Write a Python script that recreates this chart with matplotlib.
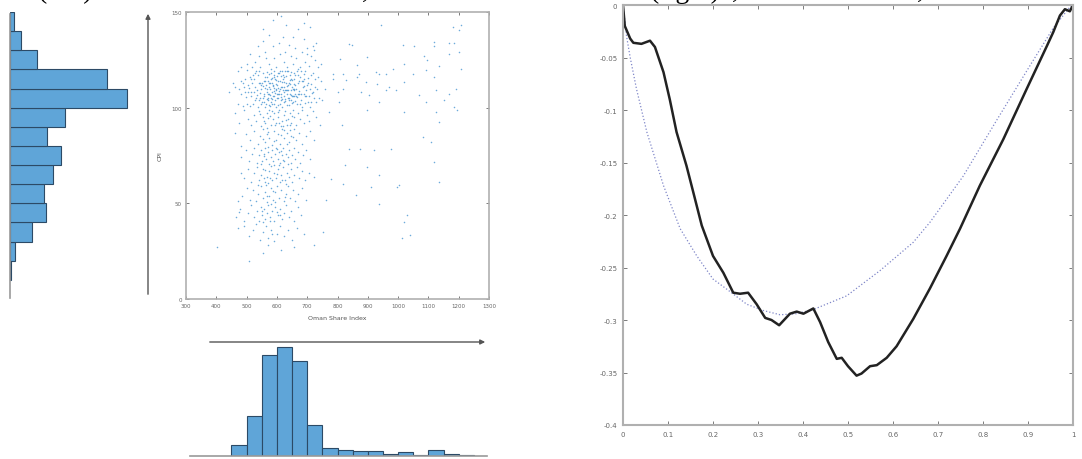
import matplotlib.pyplot as plt
import numpy as np
from matplotlib.patches import FancyArrowPatch

plt.rcParams['axes.unicode_minus'] = False

# --- marginal histograms (bin edges in data units, counts)
cpi_edges = [10, 20, 30, 40, 50, 60, 70, 80, 90, 100, 110, 120, 130, 140, 150]
cpi_counts = [1, 8, 36, 59, 55, 70, 83, 60, 90, 191, 158, 44, 18, 7]

osi_edges = [450, 500, 550, 600, 650, 700, 750, 800, 850, 900, 950,
             1000, 1050, 1100, 1150, 1200, 1250]
osi_counts = [22, 82, 208, 224, 195, 64, 16, 12, 10, 10, 5, 8, 2, 12, 5, 3]

# --- scatter: Oman Share Index vs CPI
core_pts = [
    (630, 143), (586, 146), (555, 141), (668, 141), (710, 142), (612, 148), (690, 144),
    (536, 132), (586, 132), (652, 137), (690, 136), (723, 130), (718, 132), (619, 137),
    (608, 134), (573, 138), (640, 133), (700, 131), (660, 131), (555, 135), (730, 134),
    (564, 126), (481, 121), (510, 128), (528, 124), (545, 121), (560, 129), (575, 123),
    (590, 126), (598, 121), (611, 128), (622, 124), (633, 121), (645, 127), (652, 123),
    (664, 126), (676, 121), (684, 129), (693, 124), (705, 122), (712, 127), (725, 125),
    (735, 121), (500, 123), (540, 127), (582, 120), (627, 129), (670, 120), (698, 128),
    (745, 123), (517, 121),
    (455, 113), (462, 111), (470, 119), (476, 110), (483, 114), (490, 111), (495, 115),
    (500, 119.5), (506, 112), (511, 116), (515, 115), (519, 113), (524, 115), (528, 118),
    (532, 119), (536, 117), (540, 119), (544, 113), (548, 112), (551, 113), (555, 118),
    (558, 114), (562, 116), (565, 112), (568, 116), (571, 114), (574, 113), (577, 113),
    (580, 118), (583, 113), (586, 112), (589, 117), (592, 119), (595, 115), (598, 110),
    (601, 112), (604, 118), (607, 118), (610, 114), (613, 111), (616, 119), (619, 117),
    (622, 111), (625, 116), (628, 119), (631, 113), (634, 119), (637, 119), (640, 113),
    (643, 117), (646, 115), (649, 111), (652, 110), (655, 115), (658, 118), (661, 112),
    (664, 110), (667, 119), (670, 117), (674, 114), (678, 119), (682, 114), (686, 114),
    (690, 115), (694, 119), (699, 112), (704, 113), (709, 110), (714, 117), (720, 118),
    (727, 111), (735, 116), (745, 114), (760, 110), (573, 117.5), (596, 114.5),
    (612, 116.5), (633, 111.5), (655, 112.5), (584, 115.5), (625, 113.5), (566, 118.5),
    (604, 110.5), (642, 114.5), (688, 111.5), (618, 113.5), (590, 110.5), (648, 118.5),
    (600, 116.5), (560, 110.5),
    (548, 109.5), (553, 111.5), (557, 107.3), (561, 113.7), (566, 109.8), (569, 105.2),
    (574, 110.8), (578, 106.4), (581, 114.9), (585, 104.3), (588, 111.2), (591, 115.8),
    (594, 107.9), (598, 112.6), (601, 104.8), (605, 113.9), (608, 108.7), (611, 119.3),
    (614, 105.6), (617, 110.9), (621, 115.1), (624, 108.2), (628, 104.7), (631, 116.4),
    (634, 107.2), (638, 111.7), (641, 103.9), (644, 112.3), (647, 106.8), (651, 114.4),
    (654, 103.2), (657, 109.9), (661, 117.3), (665, 105.4), (669, 112.8), (672, 108.6),
    (677, 116.2), (681, 106.9), (685, 110.7), (691, 117.8), (696, 109.3), (701, 115.6),
    (706, 106.1), (712, 112.2), (718, 108.4), (725, 114.8), (733, 109.6), (540, 112.8),
    (534, 106.7), (527, 110.6), (521, 116.9), (513, 105.9), (507, 110.1), (497, 105.6),
    (488, 112.7),
    (470, 102), (480, 107), (488, 101), (494, 108), (500, 102), (506, 108), (511, 101),
    (516, 108), (520, 102), (524, 108), (528, 104), (532, 105), (535, 109), (538, 100.5),
    (541, 104), (544, 105), (547, 102), (550, 103), (553, 105), (556, 103), (559, 106),
    (562, 100.5), (564, 102), (567, 108), (570, 107), (572, 104), (575, 107), (577, 101),
    (580, 103), (582, 105), (585, 102), (587, 106), (590, 106), (592, 102), (595, 104),
    (597, 109), (600, 107), (602, 107), (605, 105), (607, 107), (610, 102), (612, 104),
    (615, 107), (617, 100.5), (620, 109), (622, 103), (625, 106), (627, 109), (630, 109),
    (632, 109), (635, 105), (637, 109), (640, 105), (642, 107), (645, 104), (647, 109),
    (650, 106), (653, 106), (655, 109), (658, 106), (661, 107), (664, 106), (667, 102),
    (670, 107), (673, 107), (676, 102), (680, 104), (684, 100.5), (688, 107), (692, 106),
    (697, 106), (702, 103), (708, 100.5), (714, 103), (721, 105), (730, 103), (740, 105),
    (750, 104), (603, 101.5), (618, 104.5), (591, 108.5), (633, 101.5), (577, 109.5),
    (649, 102.5), (566, 104.5), (609, 109.5), (626, 103.5), (596, 100.2), (661, 103.5),
    (584, 108.3), (639, 101.3), (573, 101.5), (545, 107.5), (693, 102.5), (716, 107.5),
    (463, 97), (476, 92), (492, 99), (505, 94), (515, 91), (524, 96), (532, 93),
    (540, 98), (548, 90.5), (555, 95), (562, 92), (568, 97), (574, 99), (580, 91),
    (586, 94), (592, 97), (597, 92), (602, 95), (607, 99), (612, 90.5), (617, 93),
    (622, 96), (627, 98), (632, 91), (637, 94), (642, 97), (647, 92), (652, 99),
    (658, 95), (664, 91), (670, 97), (676, 94), (683, 99), (690, 92), (698, 96),
    (707, 93), (718, 98), (730, 95), (742, 91), (585, 98.5), (620, 90.2), (650, 95.5),
    (571, 94.5), (605, 97.5), (545, 96.5),
    (481, 80), (498, 86), (512, 83), (525, 88), (536, 81), (545, 85), (553, 89),
    (561, 82), (568, 86), (575, 84), (583, 80.5), (590, 88), (597, 83), (604, 86),
    (611, 81), (618, 89), (625, 84), (632, 87), (640, 82), (648, 85), (656, 89),
    (664, 83), (673, 87), (684, 81), (696, 85), (710, 88), (722, 83), (566, 89.5),
    (614, 85.5), (642, 88.5), (463, 87),
    (553, 83.4), (559, 92.8), (571, 87.3), (578, 95.6), (589, 82.7), (594, 90.7),
    (601, 78.4), (606, 91.8), (619, 72.6), (623, 88.2), (629, 93.6), (634, 80.9),
    (644, 91.1), (653, 84.6), (562, 67.2), (576, 63.3), (588, 56.7), (606, 70.2),
    (617, 62.4), (626, 53.1), (566, 53.8), (552, 46.2), (578, 40.8), (599, 45.6),
    (547, 70.8), (538, 59.7), (584, 33.8), (611, 44.1),
    (483, 74), (497, 78), (508, 72), (518, 76), (526, 79), (533, 71), (540, 75),
    (546, 78), (551, 72), (556, 76), (561, 79), (565, 73), (570, 77), (575, 70.5),
    (579, 74), (584, 78), (588, 72), (593, 76), (597, 79), (602, 73), (607, 77),
    (611, 71), (616, 75), (620, 79), (625, 72), (630, 76), (635, 74), (640, 78),
    (645, 71), (650, 75), (655, 79), (661, 73), (668, 77), (676, 71), (685, 75),
    (696, 78), (708, 73), (558, 74.5), (591, 70.2), (613, 77.5), (636, 70.5), (572, 79.5),
    (492, 63), (503, 68), (514, 61), (524, 66), (533, 69), (541, 62), (548, 65),
    (555, 68), (561, 61), (567, 64), (573, 67), (579, 69.5), (585, 62), (591, 66),
    (597, 63), (603, 68), (609, 61), (615, 65), (621, 69), (627, 62), (633, 66),
    (639, 64), (645, 68), (651, 61), (658, 65), (665, 69), (673, 63), (682, 67),
    (693, 62), (705, 66), (722, 64), (570, 60.5), (600, 65.5), (630, 60.3), (556, 63.5),
    (481, 66),
    (485, 54), (500, 58), (512, 52), (522, 57), (531, 51), (539, 55), (546, 59),
    (553, 53), (560, 56), (567, 50.5), (573, 54), (580, 58), (587, 52), (594, 56),
    (601, 59), (608, 53), (615, 57), (622, 51), (629, 55), (636, 59), (644, 53),
    (652, 57), (661, 51), (671, 55), (683, 58), (697, 52), (595, 50.5), (564, 59.5),
    (470, 51),
    (465, 43), (478, 47), (492, 41), (505, 45), (515, 49), (524, 43), (533, 46),
    (540, 41), (546, 48), (552, 44), (557, 47), (562, 42), (567, 45), (572, 49),
    (577, 43), (583, 46), (589, 41), (595, 48), (602, 44), (609, 47), (616, 42),
    (623, 45), (631, 49), (639, 43), (648, 46), (658, 41), (668, 48), (681, 44),
    (555, 40.5), (580, 49.5), (476, 45.5),
    (470, 37), (492, 38), (508, 33), (521, 36), (532, 39), (543, 31), (554, 35),
    (563, 38), (572, 32), (581, 36), (590, 30.5), (600, 34), (611, 38), (623, 33),
    (636, 36), (650, 31), (665, 37), (690, 34),
    (401, 27), (509, 20), (555, 24), (570, 28), (614, 25.5), (658, 27), (443, 108),
]
right_pts = [
    (943, 143.4), (1180, 142.2), (1207, 143.4), (1202, 140.4), (1169, 134), (1185, 134),
    (1119, 134.3), (1119, 132), (1086, 127), (1097, 124.7), (1136, 122), (1169, 128.2),
    (1207, 120.4), (1202, 129), (1015, 132.6), (1053, 132.2), (839, 133.5), (848, 132.6),
    (808, 125.3), (899, 126.5), (866, 122.1), (872, 117.8), (866, 116), (927, 118.6),
    (938, 117.8), (960, 117.8), (982, 120.4), (1020, 123), (1048, 117.8), (1092, 119.5),
    (1119, 116), (1125, 109), (1152, 103.8), (1169, 107.3), (1191, 110), (1183, 100.4),
    (1196, 98.6), (1125, 97.7), (1020, 97.7), (1020, 113.4), (971, 110.8), (960, 109),
    (993, 109), (938, 103), (905, 106.4), (899, 98.6), (894, 113.4), (877, 108.2),
    (932, 112.5), (1070, 106.4), (1092, 103), (1136, 92.5), (1081, 84.7), (1108, 82),
    (1119, 71.6), (1136, 61.2), (1004, 59.4), (998, 58.5), (1031, 43.7), (1020, 40.3),
    (1013, 31.9), (1040, 33.3), (977, 78.6), (921, 77.7), (899, 69), (936, 65),
    (910, 58.5), (936, 49.8), (861, 54.2), (819, 60.3), (839, 78.6), (874, 78.2),
    (826, 69.9), (815, 90.8), (779, 62.9), (828, 114.3), (817, 110), (800, 108.2),
    (806, 103), (784, 115.2), (773, 97.7), (762, 51.6), (751, 35), (723, 28),
    (784, 117.8), (817, 117.8),
]
osi_x = [p[0] for p in core_pts + right_pts]
cpi_y = [p[1] for p in core_pts + right_pts]

# --- right panel: empirical (black) and fitted (dotted) curves
emp_t = [0, 0.004, 0.016, 0.023, 0.041, 0.06, 0.071, 0.09, 0.104, 0.119, 0.141,
         0.156, 0.175, 0.2, 0.223, 0.245, 0.26, 0.278, 0.297, 0.316, 0.33, 0.347,
         0.371, 0.386, 0.401, 0.423, 0.438, 0.456, 0.475, 0.486, 0.5, 0.519, 0.53,
         0.549, 0.564, 0.586, 0.608, 0.645, 0.682, 0.719, 0.749, 0.793, 0.845,
         0.897, 0.942, 0.956, 0.971, 0.982, 0.993, 1.0]
emp_v = [0, -0.020, -0.032, -0.036, -0.037, -0.034, -0.040, -0.064, -0.090, -0.121,
         -0.153, -0.178, -0.210, -0.239, -0.255, -0.274, -0.275, -0.274, -0.285,
         -0.298, -0.300, -0.305, -0.294, -0.292, -0.294, -0.289, -0.302, -0.321,
         -0.337, -0.336, -0.344, -0.353, -0.351, -0.344, -0.343, -0.336, -0.325,
         -0.299, -0.270, -0.239, -0.213, -0.172, -0.128, -0.080, -0.039, -0.026,
         -0.010, -0.004, -0.006, 0]
fit_t = [0, 0.008, 0.016, 0.03, 0.053, 0.09, 0.127, 0.164, 0.2, 0.238, 0.275,
         0.312, 0.349, 0.386, 0.423, 0.497, 0.571, 0.645, 0.682, 0.756, 0.83,
         0.904, 0.956, 0.993, 1.0]
fit_v = [0, -0.030, -0.050, -0.080, -0.121, -0.172, -0.213, -0.239, -0.261, -0.273,
         -0.285, -0.291, -0.295, -0.294, -0.290, -0.277, -0.253, -0.226, -0.207,
         -0.163, -0.110, -0.058, -0.022, -0.002, 0]

bar_face = '#5fa5d8'
bar_edge = '#2c4a66'
tick_col = '#666666'
frame_col = '#b0b0b0'

fig = plt.figure(figsize=(10.82, 4.6), dpi=100)

# caption fragments cut off at the top of the page
for x, s in [(38, '(left)'), (362, ','), (650, '(right)'), (732, ','), (917, ',')]:
    fig.text(x / 1082, 1 + 2 / 460, s, family='Liberation Serif', fontsize=20,
             va='baseline', ha='left', color='black')

# scatter panel
ax_sc = fig.add_axes([186 / 1082, 1 - 300 / 460, 303 / 1082, 287 / 460])
ax_sc.scatter(osi_x, cpi_y, s=5, marker='.', color='#3d8fd0', linewidths=0,
              alpha=0.75)
ax_sc.set_xlim(300, 1300)
ax_sc.set_ylim(0, 150)
ax_sc.set_xticks(np.arange(300, 1301, 100))
ax_sc.set_yticks([0, 50, 100, 150])
ax_sc.tick_params(direction='in', length=2.5, width=0.6, labelsize=4,
                  colors=tick_col, top=True, right=True, pad=3)
for sp in ax_sc.spines.values():
    sp.set_color(frame_col)
    sp.set_linewidth(1.2)
ax_sc.set_xlabel('Oman Share Index', fontsize=4.5, color='#555555', labelpad=5)
ax_sc.set_ylabel('CPI', fontsize=4.5, color='#555555', labelpad=6)

# left marginal histogram (horizontal)
ax_l = fig.add_axes([10 / 1082, 1 - 300 / 460, 130 / 1082, 287 / 460])
ax_l.barh(cpi_edges[:-1], cpi_counts, height=np.diff(cpi_edges), align='edge',
          color=bar_face, edgecolor=bar_edge, linewidth=0.8)
ax_l.set_ylim(0, 150)
ax_l.set_xlim(0, 212)
ax_l.set_xticks([])
ax_l.set_yticks([])
for k in ['top', 'right', 'bottom']:
    ax_l.spines[k].set_visible(False)
ax_l.spines['left'].set_color('#999999')
ax_l.spines['left'].set_linewidth(1.2)
ax_l.spines['left'].set_bounds(0.5, 149)
ax_l.patch.set_alpha(0)

# bottom marginal histogram
ax_b = fig.add_axes([186 / 1082, 3 / 460, 303 / 1082, 115 / 460])
ax_b.bar(osi_edges[:-1], osi_counts, width=np.diff(osi_edges), align='edge',
         color=bar_face, edgecolor=bar_edge, linewidth=0.8)
ax_b.set_xlim(300, 1300)
ax_b.set_ylim(0, 236)
ax_b.set_xticks([])
ax_b.set_yticks([])
for k in ['top', 'right', 'left']:
    ax_b.spines[k].set_visible(False)
ax_b.spines['bottom'].set_color('#999999')
ax_b.spines['bottom'].set_linewidth(1.2)
ax_b.spines['bottom'].set_bounds(313, 1293)
ax_b.patch.set_alpha(0)

# direction arrows between panels
for (x0, y0), (x1, y1) in [((148, 298), (148, 12)), ((207, 343), (488, 343))]:
    arr = FancyArrowPatch((x0 / 1082, 1 - y0 / 460), (x1 / 1082, 1 - y1 / 460),
                          transform=fig.transFigure, arrowstyle='-|>',
                          mutation_scale=7, color='#555555', linewidth=1.0)
    fig.add_artist(arr)

# right panel
ax_r = fig.add_axes([623 / 1082, 1 - 426 / 460, 450 / 1082, 420 / 460])
ax_r.plot(fit_t, fit_v, color='#7f86c8', linestyle=':', linewidth=0.9)
ax_r.plot(emp_t, emp_v, color='#222222', linewidth=1.8)
ax_r.set_xlim(0, 1)
ax_r.set_ylim(-0.4, 0)
ax_r.set_xticks(np.arange(0, 1.01, 0.1))
ax_r.set_xticklabels(['0', '0.1', '0.2', '0.3', '0.4', '0.5', '0.6', '0.7',
                      '0.8', '0.9', '1'])
ax_r.set_yticks(np.arange(-0.4, 0.001, 0.05))
ax_r.set_yticklabels(['-0.4', '-0.35', '-0.3', '-0.25', '-0.2', '-0.15', '-0.1',
                      '-0.05', '0'])
ax_r.tick_params(direction='in', length=3, width=0.6, labelsize=5,
                 colors=tick_col, top=True, right=True, pad=4)
for sp in ax_r.spines.values():
    sp.set_color(frame_col)
    sp.set_linewidth(1.5)

fig.savefig('out.png', dpi=100)
